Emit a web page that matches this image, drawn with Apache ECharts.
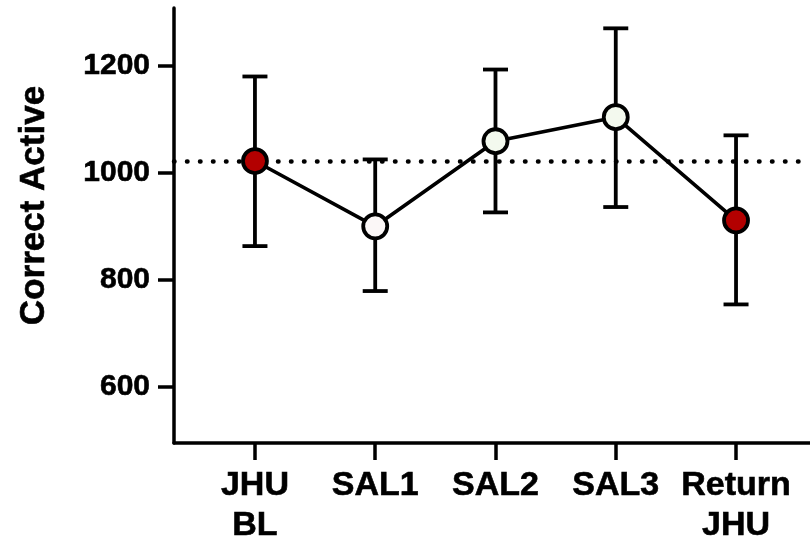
<!DOCTYPE html>
<html>
<head>
<meta charset="utf-8">
<script src="https://cdn.jsdelivr.net/npm/echarts@6/dist/echarts.min.js"></script>
<style>html,body{margin:0;padding:0;background:#fff;}#c{width:810px;height:546px;}</style>
</head>
<body>
<div id="c"></div>
<script>
const categories = ['JHU\nBL', 'SAL1', 'SAL2', 'SAL3', 'Return\nJHU'];
const means = [1021, 899, 1058, 1103, 910];
const errLow = [862, 778, 925, 935, 753];
const errHigh = [1179, 1024, 1192, 1269, 1069];
const baseline = 1021;
const yTicks = [600, 800, 1000, 1200];
const yName = 'Correct Active';

const fills = ['#b30000', '#fbf7f7', '#f3f9ee', '#f3f9ee', '#b30000'];
const positions = categories.map((c, i) => i);
const FONT = 'Liberation Sans, Arial, sans-serif';

const chart = echarts.init(document.getElementById('c'), null, {renderer: 'canvas'});
chart.setOption({
  animation: false,
  backgroundColor: '#fff',
  grid: {left: 174, right: 0, top: 8, bottom: 103, containLabel: false},
  xAxis: {
    type: 'value',
    min: -0.673,
    max: 4.615,
    splitLine: {show: false},
    axisLine: {show: true, onZero: false, lineStyle: {color: '#000', width: 3.5}},
    axisTick: {show: true, length: 17, lineStyle: {color: '#000', width: 3.5}, customValues: positions},
    axisLabel: {
      customValues: positions,
      formatter: v => categories[Math.round(v)] ?? '',
      color: '#000', fontFamily: FONT, fontWeight: 'bold', fontSize: 34,
      textBorderColor: '#000', textBorderWidth: 0.6,
      lineHeight: 40, margin: 23, align: 'center'
    }
  },
  yAxis: {
    type: 'value',
    min: 494,
    max: 1307,
    name: yName,
    nameLocation: 'middle',
    nameGap: 122,
    nameRotate: 90,
    nameTextStyle: {color: '#000', fontFamily: FONT, fontWeight: 'bold', fontSize: 35,
      textBorderColor: '#000', textBorderWidth: 0.6, padding: [0, 0, 0, 40]},
    splitLine: {show: false},
    axisLine: {show: true, onZero: false, lineStyle: {color: '#000', width: 3.5}},
    axisTick: {show: true, length: 16, lineStyle: {color: '#000', width: 3.5}, customValues: yTicks},
    axisLabel: {
      customValues: yTicks,
      formatter: v => String(v),
      color: '#000', fontFamily: FONT, fontWeight: 'bold', fontSize: 30, margin: 24,
      textBorderColor: '#000', textBorderWidth: 0.6
    }
  },
  series: [
    {
      type: 'custom',
      z: 1,
      data: positions.map(i => [i, errLow[i], errHigh[i]]),
      renderItem: function (params, api) {
        const x = api.value(0);
        const pHi = api.coord([x, api.value(2)]);
        const pLo = api.coord([x, api.value(1)]);
        const hw = 12.5;
        const st = {stroke: '#000', lineWidth: 3.8, fill: null};
        return {
          type: 'group',
          children: [
            {type: 'line', shape: {x1: pHi[0], y1: pHi[1], x2: pLo[0], y2: pLo[1]}, style: st},
            {type: 'line', shape: {x1: pHi[0] - hw, y1: pHi[1], x2: pHi[0] + hw, y2: pHi[1]}, style: st},
            {type: 'line', shape: {x1: pLo[0] - hw, y1: pLo[1], x2: pLo[0] + hw, y2: pLo[1]}, style: st}
          ]
        };
      },
      markLine: {
        z: 1,
        silent: true,
        symbol: ['none', 'none'],
        label: {show: false},
        lineStyle: {color: '#000', width: 4.5, type: [0.5, 12.5], cap: 'round', opacity: 1},
        data: [{yAxis: baseline}]
      }
    },
    {
      type: 'line',
      z: 3,
      data: positions.map(i => ({value: [i, means[i]], itemStyle: {color: fills[i]}})),
      symbol: 'circle',
      symbolSize: 24,
      lineStyle: {color: '#000', width: 3.6},
      itemStyle: {borderColor: '#000', borderWidth: 3.8},
      emphasis: {disabled: true}
    }
  ]
});
</script>
</body>
</html>
